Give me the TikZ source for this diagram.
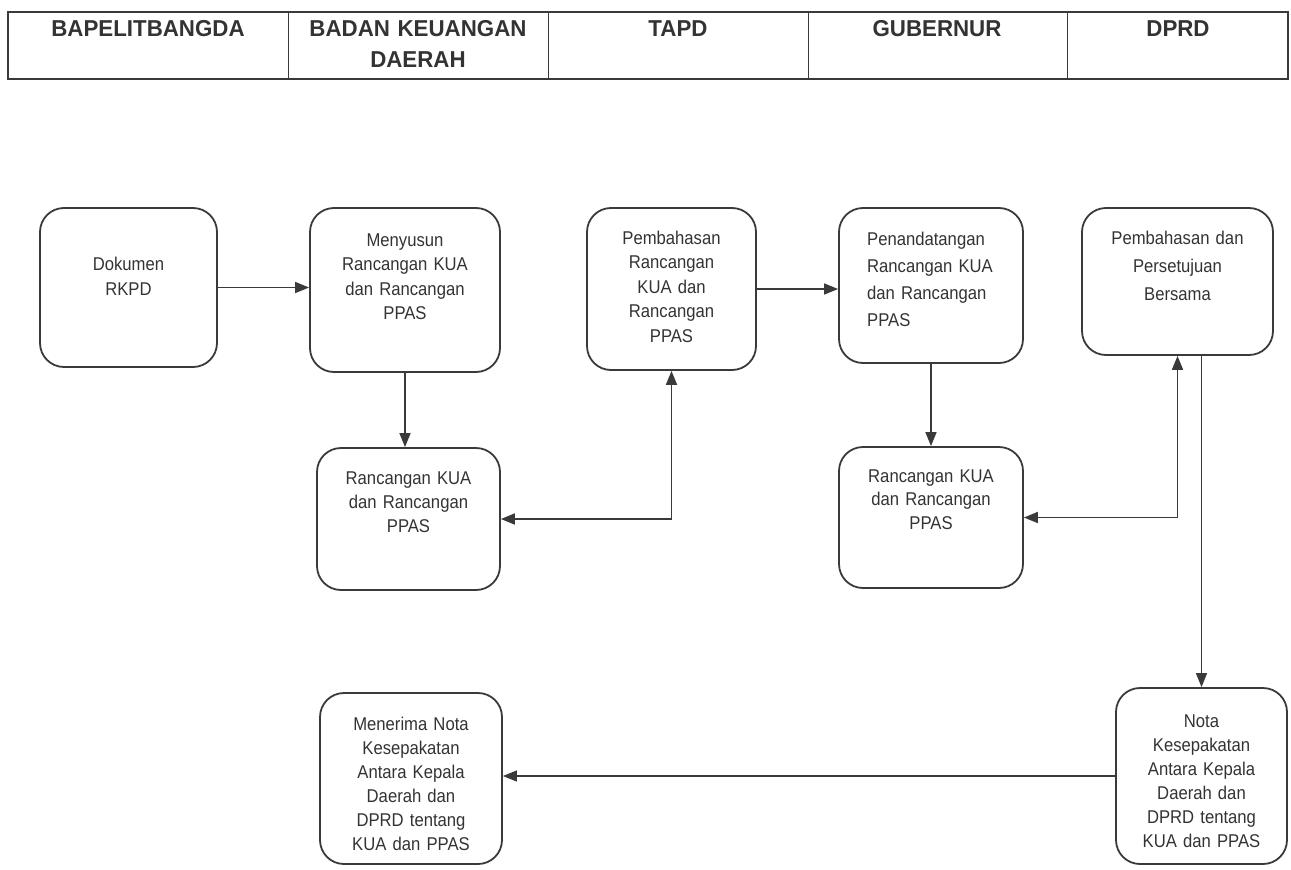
\documentclass[tikz,border=0pt]{standalone}
\usepackage{fontspec}
\setmainfont{Liberation Sans}[FakeStretch=0.9]
\newfontfamily\hdrfont{Liberation Sans}[FakeStretch=0.97]
\usetikzlibrary{arrows.meta}
\definecolor{ink}{HTML}{333333}
\definecolor{lineink}{HTML}{3A3A3A}
\tikzset{
  x=1pt, y=-1pt,
  stepbox/.style={draw=lineink, line width=1.8pt, rounded corners=24pt, inner sep=0pt},
  boxtext/.style={anchor=base, inner sep=0pt, text=ink, text width=180pt,
                  font=\fontsize{18.5}{24.5}\selectfont, align=center},
  hdrtext/.style={anchor=base, inner sep=0pt, text=ink, text width=250pt, align=center,
                  font=\hdrfont\bfseries\fontsize{23}{31}\selectfont},
  arr/.style={draw=lineink, line width=1.4pt, -{Triangle[length=14pt,width=11pt]}},
  dblarr/.style={draw=lineink, line width=1.8pt, {Triangle[length=14pt,width=11pt]}-{Triangle[length=14pt,width=11pt]}},
}
\begin{document}
\begin{tikzpicture}
\useasboundingbox (0,0) rectangle (1291,870);

% header table
\draw[lineink, line width=1.4pt] (8,12) rectangle (1288,79);
\foreach \xx in {288,548,808,1067} \draw[lineink, line width=1pt] (\xx,12) -- (\xx,79);
\node[hdrtext] (h1) at (148,36) {BAPELITBANGDA};
\node[hdrtext] (h2) at (418,36) {BADAN KEUANGAN\\DAERAH};
\node[hdrtext] (h3) at (678,36) {TAPD};
\node[hdrtext] (h4) at (937,36) {GUBERNUR};
\node[hdrtext] (h5) at (1178,36) {DPRD};

% process boxes
\node[stepbox, minimum width=177pt, minimum height=159pt] (dok)   at (128.5,287.5) {};
\node[stepbox, minimum width=190pt, minimum height=164pt] (meny)  at (405,290) {};
\node[stepbox, minimum width=183pt, minimum height=142pt] (rancL) at (408.5,519) {};
\node[stepbox, minimum width=169pt, minimum height=162pt] (pemb)  at (671.5,289) {};
\node[stepbox, minimum width=184pt, minimum height=155pt] (penan) at (931,285.5) {};
\node[stepbox, minimum width=191pt, minimum height=147pt] (pers)  at (1177.5,281.5) {};
\node[stepbox, minimum width=184pt, minimum height=141pt] (rancR) at (931,517.5) {};
\node[stepbox, minimum width=182pt, minimum height=171pt] (men)   at (411,778.5) {};
\node[stepbox, minimum width=171pt, minimum height=176pt] (nota)  at (1201.5,776) {};

% box texts (anchored at the baseline of their first line)
\node[boxtext, font=\fontsize{18.5}{25}\selectfont] (tdok) at (128.5,270) {Dokumen\\RKPD};
\node[boxtext] (tmeny) at (405,246) {Menyusun\\Rancangan KUA\\dan Rancangan\\PPAS};
\node[boxtext, font=\fontsize{18.5}{24}\selectfont] (trancL) at (408.5,484) {Rancangan KUA\\dan Rancangan\\PPAS};
\node[boxtext] (tpemb) at (671.5,244) {Pembahasan\\Rancangan\\KUA dan\\Rancangan\\PPAS};
\node[boxtext, anchor=base west, align=left, font=\fontsize{18.5}{27}\selectfont] (tpenan) at (867,245) {Penandatangan\\Rancangan KUA\\dan Rancangan\\PPAS};
\node[boxtext, font=\fontsize{18.5}{28}\selectfont] (tpers) at (1177.5,244) {Pembahasan dan\\Persetujuan\\Bersama};
\node[boxtext, font=\fontsize{18.5}{23.5}\selectfont] (trancR) at (931,482) {Rancangan KUA\\dan Rancangan\\PPAS};
\node[boxtext, font=\fontsize{18.5}{24}\selectfont] (tmen) at (411,730) {Menerima Nota\\Kesepakatan\\Antara Kepala\\Daerah dan\\DPRD tentang\\KUA dan PPAS};
\node[boxtext, font=\fontsize{18.5}{24}\selectfont] (tnota) at (1201.5,727) {Nota\\Kesepakatan\\Antara Kepala\\Daerah dan\\DPRD tentang\\KUA dan PPAS};

% connectors
\draw[arr] (dok.east) -- (dok.east -| meny.west);
\draw[arr] (meny.south) -- (meny.south |- rancL.north);
\draw[dblarr] (rancL.east) -| (pemb.south);
\draw[arr] (pemb.east) -- (pemb.east -| penan.west);
\draw[arr] (penan.south) -- (penan.south |- rancR.north);
\draw[dblarr] (rancR.east) -| (pers.south);
\draw[arr] (pers.south -| nota.north) -- (nota.north);
\draw[arr] (nota.west) -- (nota.west -| men.east);
\end{tikzpicture}
\end{document}
